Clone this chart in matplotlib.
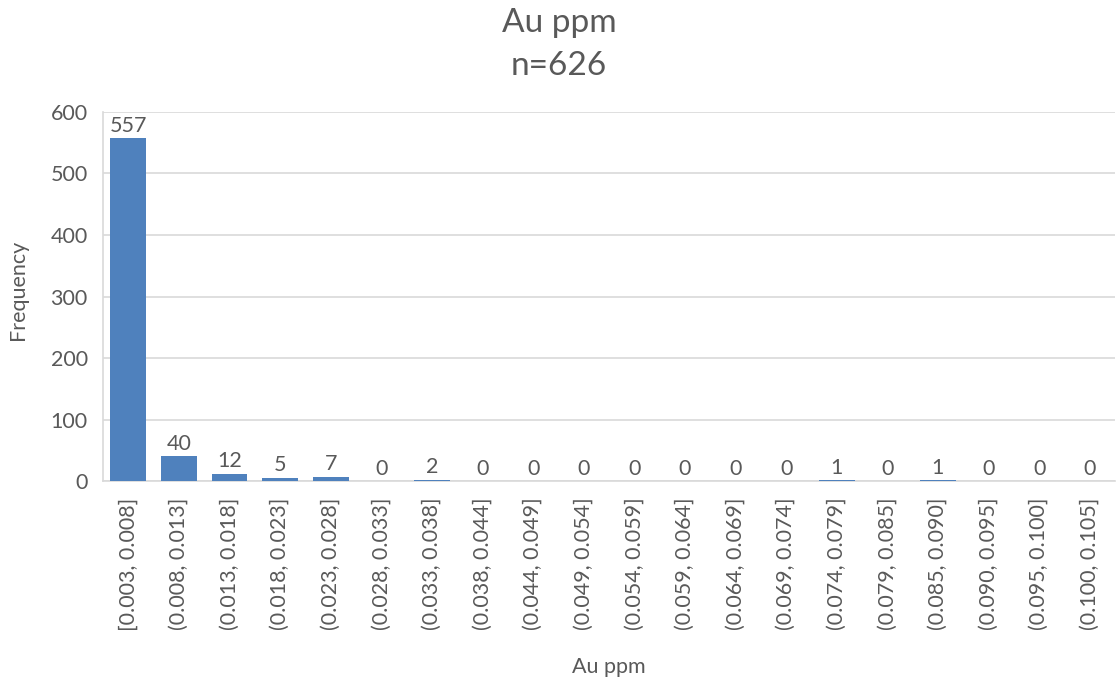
import matplotlib
matplotlib.use("Agg")
import matplotlib.pyplot as plt
import numpy as np

categories = ["[0.003, 0.008]", "(0.008, 0.013]", "(0.013, 0.018]", "(0.018, 0.023]",
              "(0.023, 0.028]", "(0.028, 0.033]", "(0.033, 0.038]", "(0.038, 0.044]",
              "(0.044, 0.049]", "(0.049, 0.054]", "(0.054, 0.059]", "(0.059, 0.064]",
              "(0.064, 0.069]", "(0.069, 0.074]", "(0.074, 0.079]", "(0.079, 0.085]",
              "(0.085, 0.090]", "(0.090, 0.095]", "(0.095, 0.100]", "(0.100, 0.105]"]
counts = [557, 40, 12, 5, 7, 0, 2, 0, 0, 0, 0, 0, 0, 0, 1, 0, 1, 0, 0, 0]
yticks = [0, 100, 200, 300, 400, 500, 600]

plt.rcParams['font.family'] = ['Lato', 'DejaVu Sans']
text_col = '#595959'
grid_col = '#D9D9D9'
bar_col = '#4F81BD'

fig = plt.figure(figsize=(11.18, 6.85), dpi=100)
ax_left, ax_bottom, ax_w, ax_h = 0.0921, 0.2978, 0.9052, 0.5387
ax = fig.add_axes([ax_left, ax_bottom, ax_w, ax_h])
x = np.arange(len(categories))
ax.bar(x, counts, width=0.71, color=bar_col, zorder=3)
for xi, c in zip(x, counts):
    ax.text(xi, c + 4, str(c), ha='center', va='bottom', fontsize=15.5, color=text_col)

ax.set_xlim(-0.5, len(categories) - 0.5)
ax.set_ylim(0, 600)
ax.set_yticks(yticks)
ax.set_xticks(x)
ax.set_xticklabels(categories, rotation=90, fontsize=15.5, color=text_col)
ax.tick_params(axis='y', labelsize=15.5, labelcolor=text_col, length=0, pad=11)
ax.tick_params(axis='x', length=0, pad=12)
ax.yaxis.grid(True, color=grid_col, linewidth=1.2, zorder=0)
for s in ['top', 'right']:
    ax.spines[s].set_visible(False)
for s in ['left', 'bottom']:
    ax.spines[s].set_color(grid_col)
    ax.spines[s].set_linewidth(1.2)

fig.text(0.016, 0.577, 'Frequency', rotation=90, ha='center', va='center',
         fontsize=15.5, color=text_col)
fig.text(ax_left + ax_w / 2, 0.0175, 'Au ppm', ha='center', va='baseline',
         fontsize=15.5, color=text_col)
fig.text(0.5, 0.953, 'Au ppm', ha='center', va='baseline', fontsize=24, color=text_col)
fig.text(0.5, 0.8905, 'n=626', ha='center', va='baseline', fontsize=24, color=text_col)

fig.savefig('out.png', dpi=100)
